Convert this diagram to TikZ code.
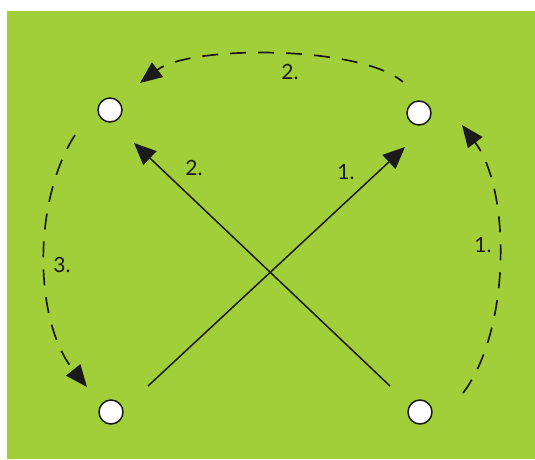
\documentclass[tikz,border=0pt]{standalone}
\usepackage{fontspec}
\setmainfont{Lato}
\usetikzlibrary{arrows.meta}
\definecolor{field}{RGB}{160,207,58}
\definecolor{ink}{RGB}{26,26,26}
\tikzset{
    spot/.style={circle,draw=ink,fill=white,line width=1.5pt,minimum size=24pt,inner sep=0pt},
    pass/.style={ink,line width=1.5pt,-{Triangle[length=22pt,width=19pt]}},
    run/.style={ink,line width=1.7pt,dash pattern=on 16pt off 12pt,-{Triangle[length=22pt,width=18pt]}},
    num/.style={ink,font=\fontsize{21}{23}\selectfont}
}
\begin{document}
\begin{tikzpicture}[x=1pt,y=-1pt]
    \useasboundingbox (0,0) rectangle (535,459);
    \fill[field] (7,11) rectangle (535,459);
    \node[spot] (tl) at (110,110) {};
    \node[spot] (tr) at (419,113) {};
    \node[spot] (bl) at (111,412) {};
    \node[spot] (br) at (420,412) {};
    \coordinate (a1) at (148,386);
    \coordinate (a2) at (405,147);
    \coordinate (b1) at (390,386);
    \coordinate (b2) at (134,143);
    \draw[pass] (a1) -- (a2);
    \draw[pass] (b1) -- (b2);
    \coordinate (r1) at (463,393);
    \coordinate (r2) at (462,125);
    \coordinate (t1) at (403,82);
    \coordinate (t2) at (140,83);
    \coordinate (l1) at (75,135);
    \coordinate (l2) at (87,387);
    \draw[run] (r1) .. controls (511,330) and (511,190) .. (r2);
    \draw[run,dash phase=6pt] (t1) .. controls (360,45) and (190,45) .. (t2);
    \draw[run] (l1) .. controls (33,200) and (33,320) .. (l2);
    \node[num] at (346,172) {1.};
    \node[num] at (194,168) {2.};
    \node[num] at (290,72) {2.};
    \node[num] at (483,245) {1.};
    \node[num] at (62,265) {3.};
\end{tikzpicture}
\end{document}
